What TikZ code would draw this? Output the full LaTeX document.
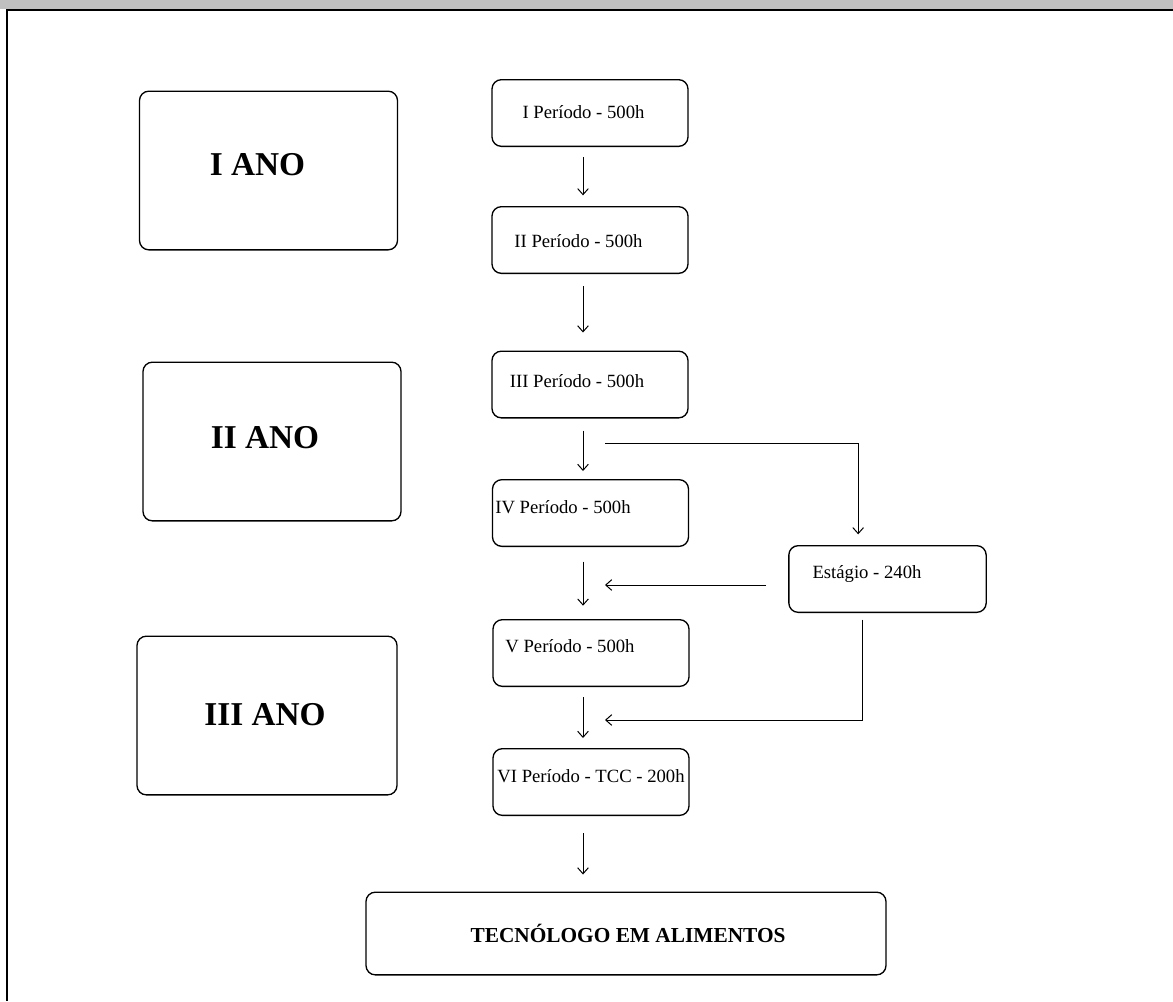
\documentclass[tikz,border=0pt]{standalone}
\usepackage{fontspec}
\setmainfont{Liberation Serif}
\usetikzlibrary{arrows.meta}

\definecolor{hdrgray}{RGB}{192,192,192}

\tikzset{every picture/.style={line width=0.75pt}}
\tikzset{
  box/.style={draw, rounded corners=7pt, line width=1pt, inner sep=0pt, minimum width=147pt, minimum height=50pt},
  anobox/.style={box, minimum width=193.5pt, minimum height=119pt},
  lbl/.style={anchor=base, inner sep=0.75pt, font=\fontsize{14}{16}\selectfont},
  anolbl/.style={anchor=base, inner sep=0.75pt, font=\fontsize{25}{28}\selectfont\bfseries},
  arr/.style={-{Straight Barb[length=4.5pt,width=8pt]}, line width=0.75pt}
}

\begin{document}
\begin{tikzpicture}[x=0.75pt,y=0.75pt,yscale=-1,xscale=1]
\useasboundingbox (0,0) rectangle (1173,1001);

%Shape: Header band
\fill[hdrgray] (0,0) rectangle (1173,9);
\draw[line width=1.8pt] (6,10) -- (1173,10);
\draw[line width=1.8pt] (7,10) -- (7,1001);

%Rounded Rect: years
\draw (268.5,170.5) node [anobox] (ano1) {};
\draw (272,441.5) node [anobox] (ano2) {};
\draw (267,715.5) node [anobox, minimum width=195pt] (ano3) {};

%Rounded Rect: periods
\draw (590,113) node [box] (p1) {};
\draw (590,240) node [box] (p2) {};
\draw (590,384.5) node [box] (p3) {};
\draw (590.5,513) node [box] (p4) {};
\draw (591,653) node [box] (p5) {};
\draw (591,782) node [box] (p6) {};
\draw (887.5,579) node [box, minimum width=148pt] (est) {};
\draw (626,933.5) node [box, minimum width=390pt, minimum height=62pt] (tec) {};

% Text Node
\draw (257.5,175) node [anolbl] (ano1t) {I ANO};
% Text Node
\draw (265,448) node [anolbl] (ano2t) {II ANO};
% Text Node
\draw (265,725) node [anolbl] (ano3t) {III ANO};
% Text Node
\draw (583.5,118) node [lbl] (p1t) {I Período - 500h};
% Text Node
\draw (578.5,247) node [lbl] (p2t) {II Período - 500h};
% Text Node
\draw (577,387) node [lbl] (p3t) {III Período - 500h};
% Text Node
\draw (563,513) node [lbl] (p4t) {IV Período - 500h};
% Text Node
\draw (570,652) node [lbl] (p5t) {V Período - 500h};
% Text Node
\draw (591,782) node [lbl] (p6t) {VI Período - TCC - 200h};
% Text Node
\draw (867,578) node [lbl] (estt) {Estágio - 240h};
% Text Node
\draw (628,942) node [anolbl, font=\fontsize{16}{18}\selectfont\bfseries] (tect) {TECNÓLOGO EM ALIMENTOS};

%Straight Lines: main flow
\draw [arr, shorten <=7.5pt, shorten >=8pt] ([xshift=-5.25pt]p1.south) -- ([xshift=-5.25pt]p1.south |- p2.north);
\draw [arr, shorten <=9pt, shorten >=13.5pt] ([xshift=-5.25pt]p2.south) -- ([xshift=-5.25pt]p2.south |- p3.north);
\draw [arr, shorten <=9pt, shorten >=6pt] ([xshift=-5.25pt]p3.south) -- ([xshift=-5.25pt]p3.south |- p4.north);
\draw [arr, shorten <=11pt, shorten >=10pt] ([xshift=-5.6pt]p4.south) -- ([xshift=-5.6pt]p4.south |- p5.north);
\draw [arr, shorten <=7.5pt, shorten >=7.5pt] ([xshift=-6pt]p5.south) -- ([xshift=-6pt]p5.south |- p6.north);
\draw [arr, shorten <=12.75pt, shorten >=12.75pt] ([xshift=-6pt]p6.south) -- ([xshift=-6pt]p6.south |- tec.north);

%Straight Lines: internship branch
\coordinate (brin) at (605,443);
\coordinate (brout1) at (605,585);
\coordinate (brout2) at (605,720);
\draw [arr, shorten >=8pt] (brin) -| ([xshift=-22pt]est.north);
\draw [arr, shorten <=16.5pt] (est.west |- brout1) -- (brout1);
\draw [arr, shorten <=5pt] ([xshift=-19pt]est.south) |- (brout2);

\end{tikzpicture}
\end{document}
